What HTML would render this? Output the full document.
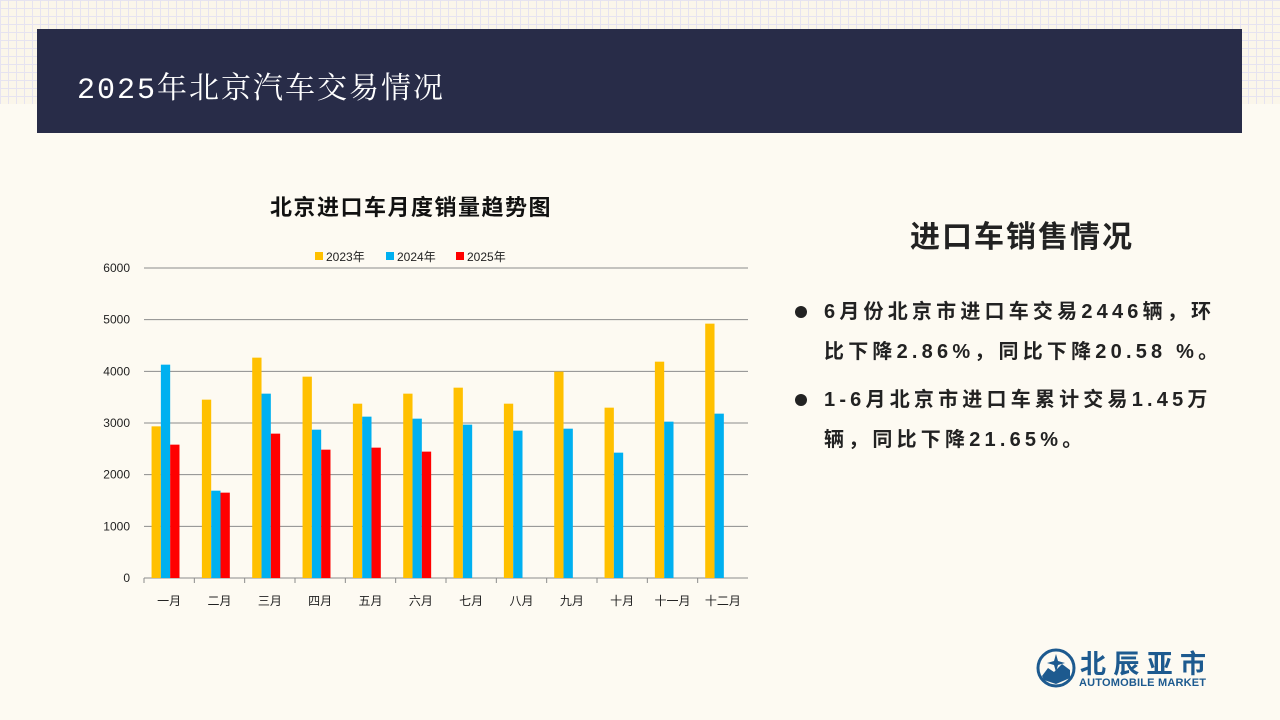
<!DOCTYPE html>
<html><head><meta charset="utf-8"><style>
body{margin:0;width:1280px;height:720px;overflow:hidden;background:#fdfaf2;font-family:"Liberation Sans","Noto Sans CJK SC",sans-serif;position:relative}
.grid{position:absolute;left:0;top:0;width:1280px;height:104px;background-color:#fbf6ea;background-image:linear-gradient(#e6e3f0 1px,transparent 1px),linear-gradient(90deg,#e6e3f0 1px,transparent 1px);background-size:8px 8px}
.banner{position:absolute;left:37px;top:29px;width:1205px;height:104px;background:#282c48}
.banner span{position:absolute;left:40px;top:34px;color:#fff;font-size:30px;font-family:"Liberation Mono","Noto Serif CJK SC",serif;letter-spacing:2px}
.rt{position:absolute;left:910px;top:212px;font-size:30px;font-weight:bold;color:#222;letter-spacing:2px}
.bul{position:absolute;left:795px;font-size:20px;font-weight:bold;color:#222;line-height:40px;width:450px;letter-spacing:4.2px;white-space:nowrap}
.bul i{position:absolute;left:0;top:14px;width:12px;height:12px;border-radius:50%;background:#222}
.bul div{padding-left:29px}
</style></head><body>
<div class="grid"></div>
<div class="banner"><span>2025年北京汽车交易情况</span></div>
<div class="rt">进口车销售情况</div>
<div class="bul" style="top:292px"><i></i><div>6月份北京市进口车交易2446辆，环<br>比下降2.86%，同比下降20.58 %。</div></div>
<div class="bul" style="top:380px"><i></i><div>1-6月北京市进口车累计交易1.45万<br>辆，同比下降21.65%。</div></div>
<svg id="chart" width="1280" height="720" style="position:absolute;left:0;top:0">
<text x="411" y="215" text-anchor="middle" font-size="22" font-weight="bold" fill="#111" letter-spacing="1.5">北京进口车月度销量趋势图</text>
</svg>
<svg style="position:absolute;left:1036px;top:648px" width="175" height="42">
<circle cx="20" cy="20" r="18" fill="none" stroke="#1d5a8f" stroke-width="3"/>
<path d="M6 28 L12 20 L18 24 L26 16 L34 22 L34 30 L20 36 L8 32Z" fill="#1d5a8f"/>
<path d="M20 6 L22 13 L29 15 L22 17 L20 24 L18 17 L11 15 L18 13Z" fill="#1d5a8f"/>
<text x="44" y="25" font-size="26" font-weight="bold" fill="#1d5a8f" font-family="Noto Sans CJK SC,sans-serif" textLength="126">北辰亚市</text>
<text x="43" y="38" font-size="11" font-weight="bold" fill="#1d5a8f" font-family="Liberation Sans,sans-serif" textLength="127">AUTOMOBILE MARKET</text>
</svg>
<script>
const categories=["一月","二月","三月","四月","五月","六月","七月","八月","九月","十月","十一月","十二月"];
const series2023=[2935,3452,4265,3897,3374,3568,3684,3374,3994,3297,4187,4923];
const series2024=[4129,1690,3568,2871,3123,3084,2968,2852,2890,2426,3026,3181];
const series2025=[2581,1652,2794,2484,2523,2446,null,null,null,null,null,null];
const yTicks=[0,1000,2000,3000,4000,5000,6000];
const seriesNames=["2023年","2024年","2025年"];
const colors=["#ffc000","#00b0f0","#ff0000"];
const svg=document.getElementById('chart');const NS="http://www.w3.org/2000/svg";
const x0=144,x1=748,y0=578,y1=268,yMax=6000;
const catW=(x1-x0)/categories.length;
const yS=v=>y0-(v/yMax)*(y0-y1);
function mk(t,a){const e=document.createElementNS(NS,t);for(const k in a)e.setAttribute(k,a[k]);svg.appendChild(e);return e;}
yTicks.forEach(v=>{
 if(v>0){const l=mk('line',{x1:x0,x2:x1,y1:yS(v),y2:yS(v),stroke:'#8c8c8c','stroke-width':1});
 
 }
 const t=mk('text',{x:130,y:yS(v)+4,'text-anchor':'end','font-size':12,fill:'#222'});t.textContent=v;
 
 
});
const ax=mk('line',{x1:x0,x2:x1,y1:y0,y2:y0,stroke:'#8c8c8c'});


const all=[series2023,series2024,series2025];
const bw=catW*0.185,off=catW*0.15;
categories.forEach((c,i)=>{
 const cx=x0+i*catW;
 const tk=mk('line',{x1:cx,x2:cx,y1:y0,y2:y0+5,stroke:'#8c8c8c'});
 
 
 all.forEach((s,j)=>{if(s[i]==null)return;
  const r=mk('rect',{x:cx+off+j*bw,y:yS(s[i]),width:bw,height:y0-yS(s[i]),fill:colors[j]});
  
  });
 const t=mk('text',{x:cx+catW/2,y:605,'text-anchor':'middle','font-size':12,fill:'#222'});t.textContent=c;
 
 
});
const lx=[315,386,456];
seriesNames.forEach((n,j)=>{
 const r=mk('rect',{x:lx[j],y:252,width:8,height:8,fill:colors[j]});
 
 
 const t=mk('text',{x:lx[j]+11,y:261,'font-size':12,fill:'#222'});t.textContent=n;
 
 
});
</script>
</body></html>
